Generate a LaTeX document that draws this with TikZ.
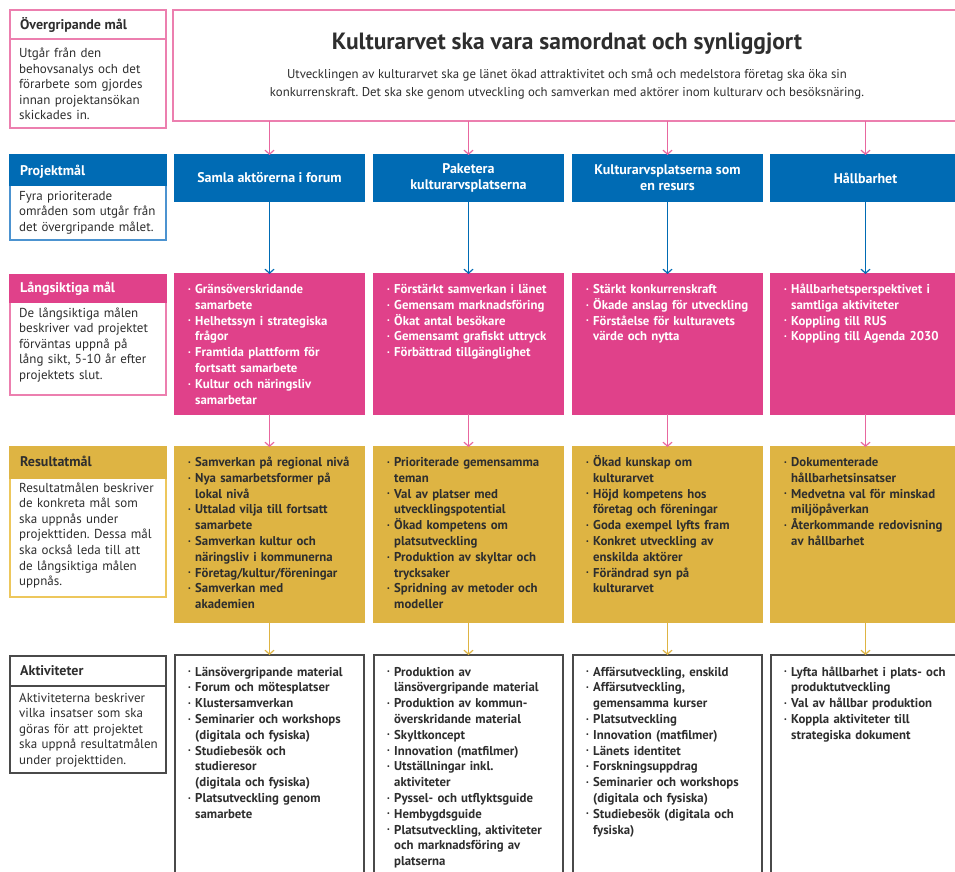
\documentclass[tikz,border=0pt]{standalone}
\usepackage{fontspec}
\setmainfont{PT Sans}
\usetikzlibrary{arrows.meta}
\frenchspacing
\definecolor{pinkline}{HTML}{E8679F}
\definecolor{pinkborder}{HTML}{EC7FAF}
\definecolor{magfill}{HTML}{E0418A}
\definecolor{bluefill}{HTML}{006BB4}
\definecolor{blueborder}{HTML}{4C93D0}
\definecolor{goldfill}{HTML}{DEB443}
\definecolor{goldborder}{HTML}{EDC75C}
\definecolor{darktext}{HTML}{2E2E2E}
\definecolor{greyborder}{HTML}{4A4A4A}
\newcommand\bu{\makebox[7pt][l]{\raisebox{0.35ex}{\fontsize{6}{6}\selectfont\textbullet}}}
\newcommand\ci{\hspace*{7pt}}
\tikzset{
  frame/.style={anchor=north west, inner sep=0, outer sep=0, line width=1.2pt},
  colbox/.style={frame, minimum width=189},
  listtext/.style={anchor=base west, inner sep=0, text width=200, align=left, font=\fontsize{12.8}{15.8}\selectfont\bfseries},
  lhead/.style={anchor=base west, inner sep=0, font=\fontsize{14}{16}\selectfont\bfseries},
  ldesc/.style={anchor=base west, inner sep=0, text width=150, align=left, font=\fontsize{13}{15.6}\selectfont, text=darktext},
  conn/.style={line width=1.2pt, -{Straight Barb[length=4pt,width=9pt]}},
}
\begin{document}
\frenchspacing
\begin{tikzpicture}[x=1pt,y=-1pt]
\useasboundingbox (0,0) rectangle (955,872);
\clip (0,0) rectangle (955,872);

% ---------- left column ----------
\node[frame, draw=pinkborder, fill=white, minimum width=156, minimum height=118] (lb1) at (10,10) {};
\node[frame, draw=pinkborder, fill=white, minimum width=156, minimum height=29] (lh1) at (10,10) {};
\node[lhead, text=darktext] (lt1) at (20,29.5) {Övergripande mål};
\node[ldesc] (ld1) at (19,57.5) {Utgår från den\\behovsanalys och det\\förarbete som gjordes\\innan projektansökan\\skickades in.};

\node[frame, draw=blueborder, fill=white, minimum width=156, minimum height=85] (lb2) at (10,155) {};
\node[frame, draw=bluefill, fill=bluefill, minimum width=156, minimum height=30] (lh2) at (10,155) {};
\node[lhead, text=white] (lt2) at (20,175.5) {Projektmål};
\node[ldesc] (ld2) at (19,200) {Fyra prioriterade\\områden som utgår från\\det övergripande målet.};

\node[frame, draw=pinkborder, fill=white, minimum width=156, minimum height=120] (lb3) at (10,275) {};
\node[frame, draw=magfill, fill=magfill, minimum width=156, minimum height=27] (lh3) at (10,275) {};
\node[lhead, text=white] (lt3) at (20,292.5) {Långsiktiga mål};
\node[ldesc] (ld3) at (19,317) {De långsiktiga målen\\beskriver vad projektet\\förväntas uppnå på\\lång sikt, 5-10 år efter\\projektets slut.};

\node[frame, draw=goldborder, fill=white, minimum width=156, minimum height=150] (lb4) at (10,447) {};
\node[frame, draw=goldfill, fill=goldfill, minimum width=156, minimum height=31] (lh4) at (10,447) {};
\node[lhead, text=darktext] (lt4) at (20,466.5) {Resultatmål};
\node[ldesc] (ld4) at (19,492) {Resultatmålen beskriver\\de konkreta mål som\\ska uppnås under\\projekttiden. Dessa mål\\ska också leda till att\\de långsiktiga målen\\uppnås.};

\node[frame, draw=greyborder, fill=white, minimum width=156, minimum height=117] (lb5) at (10,656) {};
\node[frame, draw=greyborder, fill=white, minimum width=156, minimum height=30] (lh5) at (10,656) {};
\node[lhead, text=darktext] (lt5) at (20,675.5) {Aktiviteter};
\node[ldesc] (ld5) at (19,702) {Aktiviteterna beskriver\\vilka insatser som ska\\göras för att projektet\\ska uppnå resultatmålen\\under projekttiden.};

% ---------- top goal ----------
\node[frame, draw=pinkborder, fill=white, minimum width=800, minimum height=111] (goal) at (173,10) {};
\node[font=\fontsize{23.5}{26}\selectfont\bfseries, text=darktext, inner sep=0] (goaltitle) at (567,44) {Kulturarvet ska vara samordnat och synliggjort};
\node[font=\fontsize{12.8}{18}\selectfont, align=center, text=darktext, inner sep=0] (goalsub) at (567,84) {Utvecklingen av kulturarvet ska ge länet ökad attraktivitet och små och medelstora företag ska öka sin\\konkurrenskraft. Det ska ske genom utveckling och samverkan med aktörer inom kulturarv och besöksnäring.};

% ---------- column boxes ----------
\foreach \i/\xx in {1/175,2/374,3/573,4/771}{
  \node[colbox, draw=bluefill, fill=bluefill, minimum height=46] (p\i) at (\xx,155) {};
  \node[colbox, draw=magfill, fill=magfill, minimum height=140] (l\i) at (\xx,274) {};
  \node[colbox, draw=goldfill, fill=goldfill, minimum height=175] (r\i) at (\xx,447) {};
  \node[colbox, draw=greyborder, fill=white, minimum height=240] (a\i) at (\xx,655) {};
}

% projektmål titles
\foreach \i/\t in {1/{Samla aktörerna i forum},2/{Paketera\\kulturarvsplatserna},3/{Kulturarvsplatserna som\\en resurs},4/{Hållbarhet}}{
  \node[font=\fontsize{14}{16}\selectfont\bfseries, text=white, align=center, inner sep=0] (pt\i) at (p\i.center) {\t};
}

% långsiktiga mål texts
\node[listtext, text=white] (lx1) at (188,293.5) {\bu Gränsöverskridande\\\ci samarbete\\\bu Helhetssyn i strategiska\\\ci frågor\\\bu Framtida plattform för\\\ci fortsatt samarbete\\\bu Kultur och näringsliv\\\ci samarbetar};
\node[listtext, text=white] (lx2) at (387,293.5) {\bu Förstärkt samverkan i länet\\\bu Gemensam marknadsföring\\\bu Ökat antal besökare\\\bu Gemensamt grafiskt uttryck\\\bu Förbättrad tillgänglighet};
\node[listtext, text=white] (lx3) at (586,293.5) {\bu Stärkt konkurrenskraft\\\bu Ökade anslag för utveckling\\\bu Förståelse för kulturavets\\\ci värde och nytta};
\node[listtext, text=white] (lx4) at (784,293.5) {\bu Hållbarhetsperspektivet i\\\ci samtliga aktiviteter\\\bu Koppling till RUS\\\bu Koppling till Agenda 2030};

% resultatmål texts
\node[listtext, text=darktext] (rx1) at (188,466.5) {\bu Samverkan på regional nivå\\\bu Nya samarbetsformer på\\\ci lokal nivå\\\bu Uttalad vilja till fortsatt\\\ci samarbete\\\bu Samverkan kultur och\\\ci näringsliv i kommunerna\\\bu Företag/kultur/föreningar\\\bu Samverkan med\\\ci akademien};
\node[listtext, text=darktext] (rx2) at (387,466.5) {\bu Prioriterade gemensamma\\\ci teman\\\bu Val av platser med\\\ci utvecklingspotential\\\bu Ökad kompetens om\\\ci platsutveckling\\\bu Produktion av skyltar och\\\ci trycksaker\\\bu Spridning av metoder och\\\ci modeller};
\node[listtext, text=darktext] (rx3) at (586,466.5) {\bu Ökad kunskap om\\\ci kulturarvet\\\bu Höjd kompetens hos\\\ci företag och föreningar\\\bu Goda exempel lyfts fram\\\bu Konkret utveckling av\\\ci enskilda aktörer\\\bu Förändrad syn på\\\ci kulturarvet};
\node[listtext, text=darktext] (rx4) at (784,466.5) {\bu Dokumenterade\\\ci hållbarhetsinsatser\\\bu Medvetna val för minskad\\\ci miljöpåverkan\\\bu Återkommande redovisning\\\ci av hållbarhet};

% aktiviteter texts
\node[listtext, text=darktext] (ax1) at (188,676) {\bu Länsövergripande material\\\bu Forum och mötesplatser\\\bu Klustersamverkan\\\bu Seminarier och workshops\\\ci (digitala och fysiska)\\\bu Studiebesök och\\\ci studieresor\\\ci (digitala och fysiska)\\\bu Platsutveckling genom\\\ci samarbete};
\node[listtext, text=darktext] (ax2) at (387,676) {\bu Produktion av\\\ci länsövergripande material\\\bu Produktion av kommun-\\\ci överskridande material\\\bu Skyltkoncept\\\bu Innovation (matfilmer)\\\bu Utställningar inkl.\\\ci aktiviteter\\\bu Pyssel- och utflyktsguide\\\bu Hembygdsguide\\\bu Platsutveckling, aktiviteter\\\ci och marknadsföring av\\\ci platserna};
\node[listtext, text=darktext] (ax3) at (586,676) {\bu Affärsutveckling, enskild\\\bu Affärsutveckling,\\\ci gemensamma kurser\\\bu Platsutveckling\\\bu Innovation (matfilmer)\\\bu Länets identitet\\\bu Forskningsuppdrag\\\bu Seminarier och workshops\\\ci (digitala och fysiska)\\\bu Studiebesök (digitala och\\\ci fysiska)};
\node[listtext, text=darktext] (ax4) at (784,676) {\bu Lyfta hållbarhet i plats- och\\\ci produktutveckling\\\bu Val av hållbar produktion\\\bu Koppla aktiviteter till\\\ci strategiska dokument};

% ---------- connectors ----------
\foreach \i in {1,...,4}{
  \draw[conn, draw=pinkline] (goal.south -| p\i.north) -- (p\i.north);
  \draw[conn, draw=bluefill] (p\i.south) -- (l\i.north);
  \draw[conn, draw=pinkline] (l\i.south) -- (r\i.north);
  \draw[conn, draw=goldfill] (r\i.south) -- (a\i.north);
}
\end{tikzpicture}
\end{document}
